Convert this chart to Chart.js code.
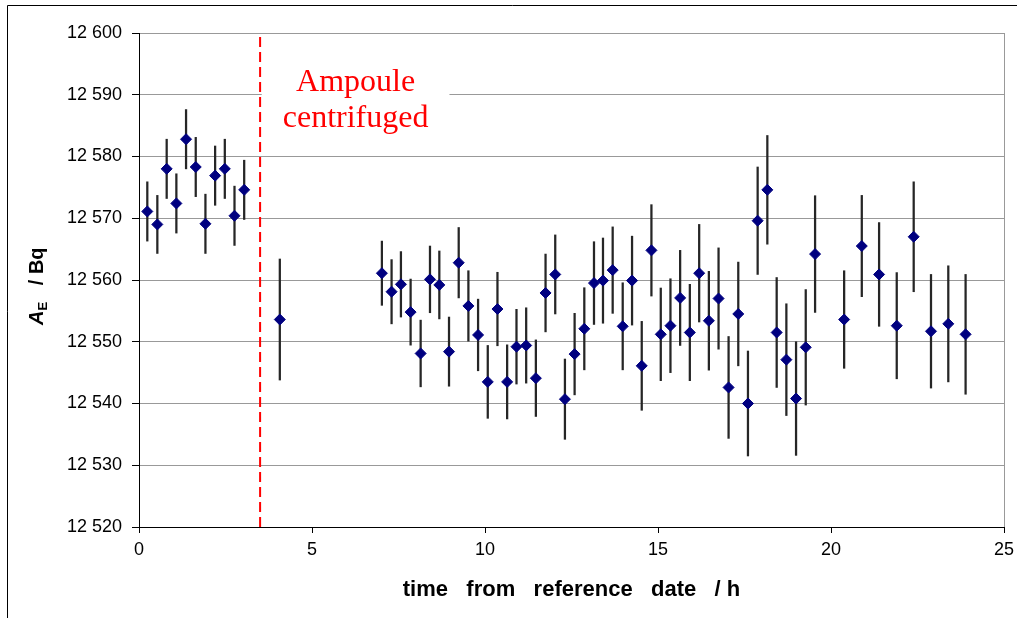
<!DOCTYPE html>
<html>
<head>
<meta charset="utf-8">
<script src="https://cdn.jsdelivr.net/npm/chart.js@4.4.1/dist/chart.umd.min.js"></script>
<style>
    body { margin: 0; background: #fff; }
    canvas { display: block; }
</style>
</head>
<body>
<canvas id="activityChart" width="1017" height="618"></canvas>
<script>
// time from reference date / h
const timeH = [0.24, 0.53, 0.80, 1.08, 1.36, 1.64, 1.92, 2.20, 2.48, 2.76, 3.04,
    4.07,
    7.02, 7.30, 7.57, 7.85, 8.14, 8.41, 8.68, 8.96, 9.24, 9.52, 9.80, 10.08, 10.36,
    10.64, 10.91, 11.19, 11.47, 11.75, 12.03, 12.31, 12.59, 12.87, 13.15, 13.41, 13.69, 13.98, 14.25, 14.53, 14.81, 15.08, 15.36, 15.64, 15.92, 16.19, 16.47, 16.75,
    17.04, 17.32, 17.60, 17.88, 18.16, 18.43, 18.71, 18.99, 19.27, 19.54,
    20.38, 20.89, 21.39, 21.90, 22.39, 22.89, 23.39, 23.89];

// A_E / Bq
const activity = [12571.1, 12569.0, 12578.0, 12572.4, 12582.8, 12578.3, 12569.1, 12576.9, 12578.0, 12570.4, 12574.6,
    12553.6,
    12561.1, 12558.1, 12559.3, 12554.8, 12548.1, 12560.1, 12559.2, 12548.4, 12562.8, 12555.8, 12551.1, 12543.5, 12555.3,
    12543.5, 12549.2, 12549.4, 12544.1, 12557.9, 12560.9, 12540.7, 12548.0, 12552.1, 12559.5, 12559.9, 12561.6, 12552.5, 12559.9, 12546.1, 12564.8, 12551.2, 12552.6, 12557.1, 12551.5, 12561.1, 12553.4, 12557.0,
    12542.6, 12554.5, 12540.0, 12569.6, 12574.6, 12551.5, 12547.1, 12540.8, 12549.1, 12564.2,
    12553.6, 12565.5, 12560.9, 12552.6, 12567.0, 12551.7, 12552.9, 12551.2];

// uncertainty (half length of error bar) / Bq
const uncertainty = [4.8, 4.7, 4.8, 4.8, 4.8, 4.8, 4.8, 4.8, 4.8, 4.8, 4.8,
    9.8,
    5.2, 5.2, 5.3, 5.35, 5.4, 5.4, 5.5, 5.6, 5.7, 5.7, 5.8, 5.9, 5.95,
    6.0, 6.05, 6.1, 6.2, 6.3, 6.4, 6.5, 6.6, 6.65, 6.7, 6.9, 7.0, 7.05, 7.2, 7.2, 7.4, 7.5, 7.6, 7.7, 7.8, 7.9, 8.0, 8.2,
    8.25, 8.4, 8.5, 8.7, 8.8, 8.9, 9.05, 9.2, 9.35, 9.45,
    7.9, 8.2, 8.4, 8.6, 8.9, 9.2, 9.4, 9.7];

const centrifugeTime = 3.5;
const yTicks = [12520, 12530, 12540, 12550, 12560, 12570, 12580, 12590, 12600];
const xTicks = [0, 5, 10, 15, 20, 25];
const noteLines = ['Ampoule', 'centrifuged'];
const noteAt = { x: 6.26, y: 12590.6 };

const FONT = "'Liberation Sans', Arial, sans-serif";

const points = timeH.map((t, i) => ({ x: t, y: activity[i] }));
const errorBars = timeH.map((t, i) => ({ x: t, y: [activity[i] - uncertainty[i], activity[i] + uncertainty[i]] }));

// annotation, axis titles and outer frame
const extras = {
    id: 'extras',
    beforeDatasetsDraw(chart) {
        const ctx = chart.ctx;
        const xs = chart.scales.x, ys = chart.scales.y;
        const cx = xs.getPixelForValue(noteAt.x);
        const cy = ys.getPixelForValue(noteAt.y);
        ctx.save();
        ctx.font = "32px 'Liberation Serif', 'Times New Roman', serif";
        const w = Math.max(...noteLines.map(s => ctx.measureText(s).width));
        ctx.fillStyle = '#fff';
        ctx.fillRect(cx - w / 2 - 21, cy - 30, w + 42, 80);
        ctx.fillStyle = '#ff0000';
        ctx.textAlign = 'center';
        ctx.textBaseline = 'alphabetic';
        noteLines.forEach((s, i) => ctx.fillText(s, cx, cy + i * 36));
        ctx.restore();
    },
    afterDraw(chart) {
        const ctx = chart.ctx;
        const area = chart.chartArea;
        ctx.save();
        ctx.fillStyle = '#000';
        // x title
        ctx.font = 'bold 22px ' + FONT;
        ctx.textAlign = 'center';
        ctx.textBaseline = 'alphabetic';
        ctx.fillText('time   from   reference   date   / h', (area.left + area.right) / 2, 596);
        // y title, A with subscript E
        ctx.translate(43, 325);
        ctx.rotate(-Math.PI / 2);
        ctx.textAlign = 'left';
        ctx.font = 'italic bold 20px ' + FONT;
        ctx.fillText('A', 0, 0);
        let pos = ctx.measureText('A').width;
        ctx.font = 'bold 13px ' + FONT;
        ctx.fillText('E', pos, 4);
        pos += ctx.measureText('E').width;
        ctx.font = 'bold 20px ' + FONT;
        ctx.fillText('   / Bq', pos, 0);
        ctx.restore();
        // frame
        ctx.save();
        ctx.strokeStyle = '#000';
        ctx.lineWidth = 1;
        ctx.beginPath();
        ctx.moveTo(7.5, 618);
        ctx.lineTo(7.5, 5.5);
        ctx.lineTo(1017, 5.5);
        ctx.stroke();
        ctx.restore();
    }
};

const ctx = document.getElementById('activityChart').getContext('2d');
const activityChart = new Chart(ctx, {
    type: 'scatter',
    data: {
        datasets: [{
            label: 'A_E',
            data: points,
            pointStyle: 'rectRot',
            pointRadius: 5.5,
            backgroundColor: '#000080',
            borderColor: '#000080',
            borderWidth: 1,
            order: 1
        }, {
            type: 'bar',
            label: 'uncertainty',
            data: errorBars,
            barThickness: 1.6,
            backgroundColor: '#262626',
            borderWidth: 0,
            order: 2
        }, {
            type: 'line',
            label: 'centrifuged',
            data: [{ x: centrifugeTime, y: yTicks[0] }, { x: centrifugeTime, y: yTicks[yTicks.length - 1] }],
            borderColor: '#ff0000',
            borderWidth: 2,
            borderDash: [10, 5],
            pointRadius: 0,
            fill: false,
            order: 3
        }]
    },
    options: {
        responsive: false,
        animation: false,
        layout: { padding: { top: 33, right: 13, left: 0, bottom: 0 } },
        plugins: {
            legend: { display: false },
            tooltip: { enabled: false }
        },
        scales: {
            x: {
                type: 'linear',
                min: xTicks[0],
                max: xTicks[xTicks.length - 1],
                offset: false,
                afterBuildTicks: scale => { scale.ticks = xTicks.map(v => ({ value: v })); },
                afterFit: scale => {
                    scale.height = 91;
                    scale.paddingLeft = 0;
                    scale.paddingRight = 0;
                },
                border: { color: '#000', width: 1 },
                grid: {
                    color: c => (c.tick && c.tick.value === 25) ? '#999' : 'rgba(0,0,0,0)',
                    tickColor: '#000',
                    tickLength: 6,
                    offset: false
                },
                ticks: {
                    color: '#000',
                    font: { family: FONT, size: 18 },
                    padding: 6,
                    maxRotation: 0
                }
            },
            y: {
                min: yTicks[0],
                max: yTicks[yTicks.length - 1],
                afterBuildTicks: scale => { scale.ticks = yTicks.map(v => ({ value: v })); },
                afterFit: scale => { scale.width = 139; },
                border: { color: '#000', width: 1 },
                grid: {
                    color: '#999',
                    tickColor: '#000',
                    tickLength: 7
                },
                ticks: {
                    color: '#000',
                    font: { family: FONT, size: 18 },
                    padding: 10,
                    callback: v => String(v).replace(/\B(?=(\d{3})+(?!\d))/g, ' ')
                }
            }
        }
    },
    plugins: [extras]
});
</script>
</body>
</html>
